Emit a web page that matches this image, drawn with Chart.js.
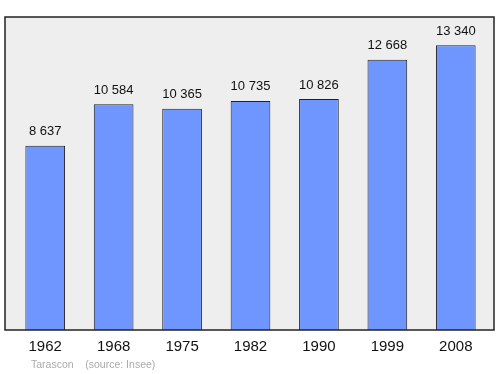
<!DOCTYPE html>
<html>
<head>
<meta charset="utf-8">
<script src="https://cdn.jsdelivr.net/npm/chart.js@4/dist/chart.umd.min.js"></script>
<style>
  html, body { margin: 0; padding: 0; background: #fff; }
  #wrap { width: 500px; height: 374px; position: relative; }
</style>
</head>
<body>
<div id="wrap"><canvas id="chart"></canvas></div>
<script>
const years = ['1962', '1968', '1975', '1982', '1990', '1999', '2008'];
const population = [8637, 10584, 10365, 10735, 10826, 12668, 13340];
const sourceText = 'Tarascon    (source: Insee)';

function fmt(n) {
    return String(n).replace(/\B(?=(\d{3})+(?!\d))/g, ' ');
}

// frame behind the bars, a bit wider than the chart area
const framePlugin = {
    id: 'frame',
    beforeDatasetsDraw(chart) {
        const a = chart.chartArea;
        const ctx = chart.ctx;
        ctx.save();
        ctx.fillStyle = '#eeeeee';
        ctx.fillRect(a.left - 6, a.top, a.right - a.left + 10, a.bottom - a.top);
        ctx.restore();
    },
    afterDatasetsDraw(chart) {
        const a = chart.chartArea;
        const ctx = chart.ctx;
        ctx.save();
        ctx.strokeStyle = '#222';
        ctx.lineWidth = 1.5;
        ctx.strokeRect(a.left - 6, a.top, a.right - a.left + 10, a.bottom - a.top);

        // values above bars
        ctx.fillStyle = '#111';
        ctx.font = '13px "Liberation Sans", Arial, sans-serif';
        ctx.textAlign = 'center';
        ctx.textBaseline = 'middle';
        chart.getDatasetMeta(0).data.forEach((bar, i) => {
            ctx.fillText(fmt(population[i]), bar.x, bar.y - 14);
        });

        // year labels
        const xs = chart.scales.x;
        ctx.font = '15px "Liberation Sans", Arial, sans-serif';
        years.forEach((y, i) => {
            ctx.fillText(y, xs.getPixelForValue(i), a.bottom + 17);
        });

        // source line
        ctx.fillStyle = '#aaaaaa';
        ctx.font = '10.5px "Liberation Sans", Arial, sans-serif';
        ctx.textAlign = 'left';
        ctx.fillText(sourceText, 31, a.bottom + 35);
        ctx.restore();
    }
};

new Chart(document.getElementById('chart'), {
    type: 'bar',
    data: {
        labels: years,
        datasets: [{
            data: population,
            backgroundColor: '#6f96ff',
            borderColor: '#222',
            borderWidth: 1,
            borderSkipped: 'bottom',
            barPercentage: 0.58,
            categoryPercentage: 1
        }]
    },
    options: {
        responsive: true,
        maintainAspectRatio: false,
        animation: false,
        layout: { padding: { left: 11, right: 10, top: 17, bottom: 44 } },
        plugins: { legend: { display: false }, tooltip: { enabled: false } },
        scales: {
            x: { display: false },
            y: { display: false, min: 0, max: 14667 }
        }
    },
    plugins: [framePlugin]
});
</script>
</body>
</html>
